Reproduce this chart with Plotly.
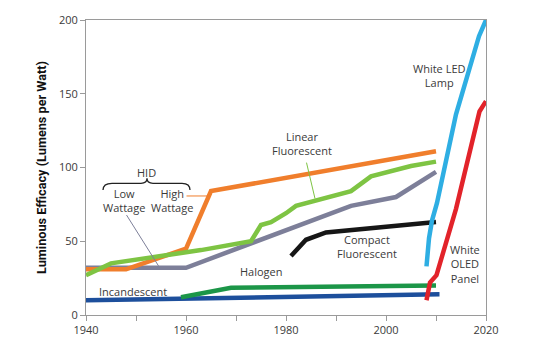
import plotly.graph_objects as go

# ---- data ----
incandescent_x = [1940, 2010.7]
incandescent_y = [10, 14]

halogen_x = [1959, 1969, 2010]
halogen_y = [12, 18.5, 20]

hid_low_x = [1940, 1960, 1993, 2002, 2010]
hid_low_y = [32, 32, 74, 80, 97]

hid_high_x = [1940, 1948, 1960, 1965, 2010]
hid_high_y = [31, 31, 45, 84, 111]

linear_x = [1940, 1945, 1963, 1973, 1975, 1977, 1980, 1982, 1993, 1997, 2005, 2010]
linear_y = [27, 35, 44, 50, 61, 63, 69, 74, 84, 94, 101, 104]

compact_x = [1981, 1984, 1988, 2010]
compact_y = [40, 51, 56, 63]

led_x = [2008.1, 2008.6, 2009.2, 2010.2, 2014, 2018.6, 2020]
led_y = [33, 52, 64, 76, 136, 189, 200]

oled_x = [2008.1, 2008.8, 2010.1, 2014, 2018.7, 2020]
oled_y = [10, 22, 27, 72, 138, 145]

x_ticks = [1940, 1960, 1980, 2000, 2020]
y_ticks = [0, 50, 100, 150, 200]

series = [
    ("Incandescent", incandescent_x, incandescent_y, "#1d4f9c"),
    ("Halogen", halogen_x, halogen_y, "#1c9648"),
    ("HID Low Wattage", hid_low_x, hid_low_y, "#7d7f99"),
    ("HID High Wattage", hid_high_x, hid_high_y, "#f07e2c"),
    ("Linear Fluorescent", linear_x, linear_y, "#7ec443"),
    ("Compact Fluorescent", compact_x, compact_y, "#161616"),
    ("White LED Lamp", led_x, led_y, "#2eaee3"),
    ("White OLED Panel", oled_x, oled_y, "#e2232a"),
]

fig = go.Figure()
for name, xs, ys, col in series:
    fig.add_trace(go.Scatter(x=xs, y=ys, mode="lines", name=name,
                             line=dict(color=col, width=4.5), showlegend=False))

FONT = "Open Sans"
TXT = "#3a3a3a"

def ann(x, y, text):
    fig.add_annotation(x=x, y=y, text=text, showarrow=False, xref="x", yref="y",
                       font=dict(family=FONT, size=11, color=TXT), align="center")

ann(1952.1, 96.7, "HID")
ann(1947.5, 77.5, "Low<br>Wattage")
ann(1957.1, 77.5, "High<br>Wattage")
ann(1983.1, 116.4, "Linear<br>Fluorescent")
ann(1996.1, 46.2, "Compact<br>Fluorescent")
ann(2010.5, 162.7, "White LED<br>Lamp")
ann(2015.8, 34.5, "White<br>OLED<br>Panel")
ann(1975.0, 29.3, "Halogen")
ann(1949.3, 16.2, "Incandescent")

# brace over HID labels
fig.add_shape(type="path", xref="x", yref="y",
              path="M 1943.4,84.7 Q 1943.4,89.3 1945.2,89.3 L 1951,89.3 Q 1952.2,89.3 1952.2,92.7 "
                   "Q 1952.2,89.3 1953.4,89.3 L 1959.2,89.3 Q 1960.8,89.3 1960.8,84.7",
              line=dict(color="#222222", width=1.3))
# leader lines
fig.add_shape(type="line", xref="x", yref="y", x0=1960.1, y0=80.7, x1=1964.5, y1=80.7,
              line=dict(color="#f07e2c", width=1))
fig.add_shape(type="line", xref="x", yref="y", x0=1948.1, y0=67.8, x1=1954.5, y1=33.3,
              line=dict(color="#7d7f99", width=1))
fig.add_shape(type="line", xref="x", yref="y", x0=1984.1, y0=103.3, x1=1985.8, y1=78.9,
              line=dict(color="#7ec443", width=1))

fig.update_layout(
    width=542, height=351,
    margin=dict(l=86, r=56, t=14, b=36),
    paper_bgcolor="white", plot_bgcolor="white",
    font=dict(family=FONT, size=11, color=TXT),
)
fig.update_xaxes(range=[1940, 2020], tickvals=x_ticks, showgrid=False, zeroline=False,
                 showline=True, linecolor="#9a9a9a", linewidth=1, mirror=True,
                 ticks="outside", ticklen=5, tickcolor="#9a9a9a",
                 minor=dict(ticks="outside", dtick=10, ticklen=5, tickcolor="#9a9a9a"),
                 tickfont=dict(family=FONT, size=11, color=TXT))
fig.update_yaxes(range=[0, 200], tickvals=y_ticks, showgrid=False, zeroline=False,
                 showline=True, linecolor="#9a9a9a", linewidth=1, mirror=True,
                 ticks="outside", ticklen=5, tickcolor="#9a9a9a",
                 tickfont=dict(family=FONT, size=11, color=TXT),
                 title=dict(text="<b>Luminous Efficacy (Lumens per Watt)</b>",
                            font=dict(family="Roboto", size=12.7, color="#111111"),
                            standoff=9))

fig.write_html("out.html")
